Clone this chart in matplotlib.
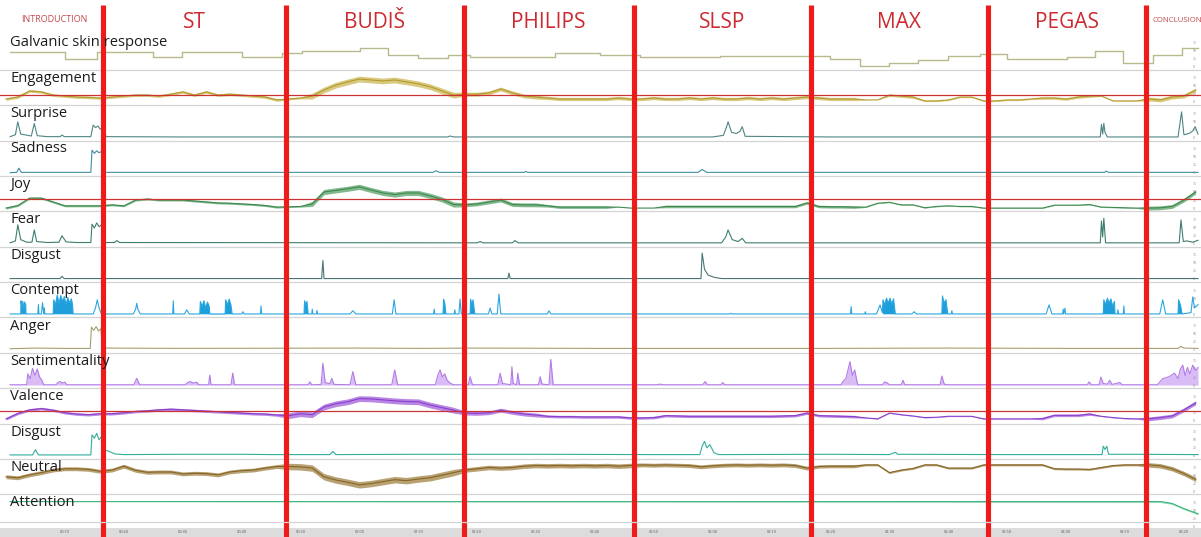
import numpy as np
import matplotlib
matplotlib.use("Agg")
import matplotlib.pyplot as plt
import matplotlib.transforms as mtransforms
from matplotlib.lines import Line2D

plt.rcParams["font.family"] = ["Open Sans", "DejaVu Sans"]

W, H = 1201, 537
T_MIN, T_MAX = -1.02, 202.9          # seconds shown across the width

# ---------------- session structure (seconds) ----------------
section_names = ["INTRODUCTION", "ST", "BUDIŠ", "PHILIPS", "SLSP", "MAX", "PEGAS", "CONCLUSION"]
section_bounds = [16.5, 47.5, 77.7, 106.6, 136.6, 166.7, 193.6]

row_labels = ["Galvanic skin response", "Engagement", "Surprise", "Sadness", "Joy", "Fear",
              "Disgust", "Contempt", "Anger", "Sentimentality", "Valence", "Disgust",
              "Neutral", "Attention"]

tick_seconds = list(range(10, 201, 10))

# regular 2-second sampling used by the continuous metrics
t_grid = np.arange(0, 204, 2)

# ---------------- galvanic skin response (step levels) ----------------
gsr_t = [0.7, 10.0, 15.4, 25.0, 29.9, 40.1, 46.9, 50.3, 60.1, 64.9, 70.0, 75.1, 78.8, 93.2,
         100.8, 107.6, 121.2, 139.9, 145.0, 149.9, 154.8, 159.9, 165.4, 170.0, 180.1, 184.9,
         189.6, 194.7, 199.7, 202.4]
gsr_v = [46, 22, 46, 30, 44, 30, 43, 48, 56, 35, 25, 35, 30, 42,
         36, 28, 32, 22, 0, 10, 20, 33, 38, 22, 28, 49,
         12, 36, 56, 56]

# ---------------- engagement ----------------
engagement = [9, 15, 34, 31, 21, 18, 15, 14, 12, 15,
              18, 21, 21, 18, 24, 31, 21, 31, 21, 24,
              21, 18, 15, 6, 9, 12, 18, 37, 52, 62,
              71, 68, 65, 68, 62, 56, 47, 34, 21, 24,
              24, 28, 40, 28, 18, 15, 12, 9, 9, 9,
              9, 9, 12, 9, 9, 12, 9, 9, 12, 9,
              12, 9, 9, 12, 9, 12, 9, 12, 15, 12,
              9, 9, 9, 6, 6, 21, 18, 15, 3, 3,
              6, 15, 15, 3, 3, 6, 6, 9, 12, 12,
              9, 15, 18, 18, 3, 3, 3, 9, 6, 15,
              18, 37]
engagement_noise = [(0, 47.5, 4), (47.5, 52, 3), (52, 77.7, 9), (77.7, 92, 6), (92, 136.6, 5),
                    (136.6, 146, 5), (150, 156, 4), (156, 176, 2), (176, 186, 4),
                    (186, 193.6, 1), (193.6, 203, 6)]
engagement_threshold = 20

# ---------------- joy ----------------
joy = [0, 8, 31, 31, 19, 7, 7, 7, 7, 10,
       7, 25, 28, 25, 25, 25, 22, 19, 16, 15,
       13, 11, 8, 3, 4, 5, 13, 50, 55, 60,
       66, 56, 47, 42, 47, 47, 38, 27, 11, 10,
       13, 19, 25, 11, 10, 10, 7, 3, 3, 3,
       3, 3, 3, 0, 0, 0, 5, 5, 5, 5,
       5, 5, 5, 5, 5, 5, 5, 5, 16, 5,
       4, 4, 3, 3, 15, 18, 10, 10, 1, 5,
       7, 5, 5, 0, 0, 0, 0, 0, 0, 9,
       9, 9, 11, 3, 2, 1, 0, 0, 1, 5,
       25, 50]
joy_noise = [(0, 47.5, 3), (47.5, 52, 2), (52, 77.7, 8), (77.7, 92, 6), (92, 104, 4),
             (111, 136.6, 4), (136.6, 145, 4), (145, 193.6, 1), (193.6, 203, 6)]
joy_threshold = 28

# ---------------- valence ----------------
valence = [5, 22, 33, 37, 32, 24, 20, 18, 21, 21,
           24, 28, 30, 33, 35, 33, 31, 29, 27, 25,
           23, 21, 20, 17, 15, 21, 18, 42, 52, 58,
           68, 67, 64, 61, 59, 58, 48, 40, 32, 23,
           22, 24, 32, 25, 20, 17, 13, 12, 12, 11,
           11, 11, 11, 8, 8, 9, 15, 14, 13, 13,
           13, 13, 13, 13, 13, 13, 14, 15, 23, 15,
           14, 13, 12, 8, 5, 23, 18, 14, 9, 10,
           13, 13, 13, 5, 5, 5, 5, 5, 6, 16,
           16, 16, 20, 13, 9, 6, 5, 5, 9, 14,
           33, 55]
valence_noise = [(0, 47.5, 4), (47.5, 77.7, 9), (77.7, 92, 6), (92, 146, 4), (146, 176, 1),
                 (176, 186, 4), (186, 193.6, 1), (193.6, 203, 6)]
valence_threshold = 30

# ---------------- neutral ----------------
neutral = [45, 42, 51, 58, 66, 70, 70, 68, 62, 66,
           78, 65, 59, 60, 60, 54, 56, 55, 51, 60,
           64, 66, 72, 77, 77, 76, 72, 45, 35, 28,
           20, 24, 30, 36, 33, 38, 42, 50, 58, 66,
           70, 74, 72, 74, 78, 80, 79, 80, 79, 80,
           79, 80, 78, 80, 82, 81, 82, 81, 80, 76,
           79, 81, 82, 81, 82, 81, 82, 80, 72, 77,
           78, 78, 78, 82, 82, 58, 66, 71, 82, 82,
           72, 72, 72, 82, 82, 82, 82, 82, 82, 70,
           69, 69, 68, 74, 80, 82, 82, 82, 79, 70,
           55, 37]
neutral_noise = [(0, 47.5, 6), (47.5, 77.7, 10), (77.7, 106.6, 7), (106.6, 136.6, 6),
                 (136.6, 146, 5), (146, 193.6, 3), (193.6, 203, 7)]

# ---------------- attention ----------------
attention_t = [0.7, 196.0, 198.0, 200.0, 202.4]
attention_v = [78, 78, 72, 56, 40]
attention_noise = [(196, 203, 3)]

# ---------------- event-like emotions (time, value) ----------------
surprise_t = [0.7, 1.6, 2.0, 2.5, 4.3, 4.8, 5.3, 7, 9.2, 9.5, 9.9, 11, 14.4, 14.8, 15.2, 15.6,
              16.0, 16.4, 17, 30, 75, 75.4, 76, 120, 121.8, 122.3, 122.6, 123.2, 124, 124.6,
              125.0, 125.5, 140, 185.8, 186.0, 186.2, 186.4, 186.6, 187, 199.0, 199.3, 199.6,
              200.0, 200.5, 201.0, 201.5, 201.9, 202.4]
surprise_v = [2, 8, 48, 10, 4, 43, 5, 2, 2, 7, 2, 2, 2, 38, 30, 35,
              25, 28, 2, 1, 1, 4, 1, 1, 6, 30, 48, 15, 12, 18,
              33, 3, 1, 1, 40, 10, 43, 15, 1, 1, 40, 79,
              8, 10, 13, 20, 33, 10]

sadness_t = [0.7, 1.8, 2.2, 2.6, 14.4, 14.6, 15.0, 15.4, 15.8, 16.2, 16.5, 72.5, 73.0, 73.6,
             88.0, 88.2, 88.6, 117.5, 118.2, 119.0, 186.5, 186.8, 187.2, 202.4]
sadness_v = [0, 1, 14, 1, 1, 70, 60, 68, 62, 66, 1, 1, 6, 1,
             1, 4, 1, 1, 10, 1, 1, 5, 1, 1]

fear_t = [0.7, 1.6, 2.0, 2.5, 3.5, 4.4, 4.8, 5.2, 7, 9.0, 9.5, 10.2, 12, 14.4, 14.6, 15.0,
          15.4, 15.8, 16.2, 16.5, 18.4, 18.8, 19.3, 80, 80.5, 81, 86, 86.4, 87, 121.5, 122.2,
          122.6, 123.3, 124.3, 125.0, 125.6, 185.8, 186.0, 186.2, 186.4, 186.7, 199.2, 199.5,
          199.9, 200.5, 201.0, 201.5, 202.4]
fear_v = [2, 8, 58, 12, 4, 4, 42, 6, 3, 4, 24, 5, 3, 3, 60, 48,
          64, 52, 58, 3, 3, 9, 3, 2, 6, 2, 2, 9, 2, 2, 20,
          42, 12, 6, 16, 2, 2, 70, 20, 78, 2, 2, 73,
          6, 8, 6, 4, 10]

disgust_t = [0.7, 9.2, 9.5, 9.9, 53.6, 53.8, 54.0, 85.2, 85.4, 85.6, 118.0, 118.2, 118.6,
             119.2, 120.2, 121.5, 202.4]
disgust_v = [1, 1, 8, 1, 1, 57, 1, 1, 18, 1, 1, 80, 30,
             12, 5, 1, 1]

contempt_t = [0.7, 2.5, 2.55, 2.7, 2.85, 3.0, 3.15, 3.35, 3.4, 5.4, 5.5, 5.6, 6.0, 6.2, 6.4,
              6.5, 6.6, 8.0, 8.1, 8.4, 8.7, 9.0, 9.3, 9.6, 9.9, 10.2, 10.5, 10.8, 11.1, 11.3,
              11.4, 14.8, 15.2, 15.5, 15.8, 16.2, 21.6, 22.0, 22.2, 22.4, 22.8, 28.3, 28.4,
              28.5, 30.3, 30.7, 31.1, 32.9, 33.0, 33.3, 33.6, 33.9, 34.2, 34.5, 34.6, 37.2,
              37.3, 37.6, 37.9, 38.2, 38.4, 40.0, 40.2, 40.4, 43.2, 43.3, 43.4, 50.6, 50.7,
              50.9, 51.1, 51.3, 51.9, 52.0, 52.1, 52.7, 52.8, 52.9, 58.4, 58.9, 59.4, 65.6,
              65.9, 66.2, 72.6, 72.7, 72.8, 74.2, 74.3, 74.5, 74.7, 76.1, 76.2, 76.3, 76.9,
              77.1, 77.3, 78.8, 78.9, 79.1, 79.3, 79.6, 81.9, 82.2, 82.5, 83.4, 83.7, 84.0,
              91.9, 92.2, 92.5, 122.9, 123.1, 123.3, 143.4, 143.5, 143.6, 145.8, 145.9, 146.0,
              147.8, 148.4, 148.8, 148.9, 149.2, 149.5, 149.8, 150.1, 150.4, 150.7, 151.0,
              153.8, 154.2, 154.6, 158.9, 159.0, 159.3, 159.6, 159.9, 160.5, 160.6, 160.7,
              176.6, 177.1, 177.6, 179.4, 179.5, 179.6, 179.8, 179.9, 186.3, 186.4, 186.7,
              187.0, 187.3, 187.6, 187.9, 188.2, 188.3, 188.7, 188.8, 188.9, 189.7, 189.8,
              189.9, 195.9, 196.4, 196.9, 199.0, 199.1, 199.4, 199.7, 201.2, 201.5, 201.8,
              202.4]
contempt_v = [1, 1, 42, 20, 40, 15, 38, 30, 1, 1, 30, 1, 1, 36, 1,
              20, 1, 1, 45, 30, 60, 35, 58, 40, 55, 30, 52, 35, 48, 30,
              1, 1, 20, 45, 20, 1, 1, 15, 34, 15, 1, 1, 42,
              1, 1, 14, 1, 1, 40, 25, 42, 20, 38, 25, 1, 1,
              45, 30, 47, 28, 1, 1, 8, 1, 1, 26, 1, 1, 42,
              30, 40, 1, 1, 16, 1, 1, 12, 1, 1, 11, 1, 1,
              45, 1, 1, 16, 1, 1, 47, 35, 1, 1, 14, 1, 1,
              47, 1, 1, 47, 30, 45, 1, 1, 19, 1, 1, 63, 1,
              1, 11, 1, 1, 3, 1, 1, 24, 1, 1, 8, 1,
              1, 29, 5, 45, 30, 50, 35, 50, 32, 48, 1,
              1, 8, 1, 1, 57, 35, 45, 1, 1, 11, 1,
              1, 29, 1, 1, 16, 1, 19, 1, 1, 45, 30,
              50, 35, 48, 25, 40, 1, 1, 14, 1, 1, 26,
              1, 1, 45, 1, 1, 45, 30, 1, 5, 54, 20,
              30]
contempt_blocks = [(2.5, 3.4), (8.0, 11.4), (32.9, 34.6), (37.2, 38.4), (50.6, 51.3),
                   (74.2, 74.7), (78.8, 79.6), (148.9, 151.0), (158.9, 159.9), (186.3, 188.3),
                   (199.0, 199.7)]

anger_t = [0.7, 5, 10, 14.3, 14.5, 14.9, 15.3, 15.7, 16.1, 16.4, 30, 60, 70, 80, 100, 120,
           140, 160, 180, 199, 199.5, 200, 202.4]
anger_v = [3, 5, 4, 4, 70, 60, 72, 58, 65, 5, 4, 5, 4, 5, 4, 4,
           4, 5, 4, 4, 10, 5, 4]

sentiment_t = [0.7, 3.5, 3.7, 4.1, 4.5, 4.9, 5.3, 5.7, 6.1, 6.4, 8.5, 8.8, 9.2, 9.6, 10.0, 10.3,
               21.7, 22.2, 22.7, 30.5, 30.8, 31.3, 31.8, 32.4, 32.7, 34.4, 34.6, 34.8, 38.2,
               38.5, 38.8, 51.3, 51.6, 51.9, 53.5, 53.8, 54.2, 55.0, 55.3, 55.7, 58.4, 58.9,
               59.4, 65.5, 66.0, 66.5, 72.9, 73.3, 73.7, 74.1, 74.5, 74.9, 75.5, 76.0, 78.5,
               78.8, 79.2, 83.5, 83.9, 84.3, 85.7, 85.9, 86.1, 86.7, 86.9, 87.2, 90.4, 90.7,
               91.0, 92.2, 92.5, 92.9, 110.5, 111.0, 111.5, 118.3, 118.7, 119.1, 121.4, 121.7,
               122.0, 141.8, 142.1, 142.6, 143.3, 143.7, 144.1, 144.6, 148.8, 149.2, 149.6,
               150.0, 152.0, 152.3, 152.6, 158.6, 158.9, 159.3, 159.8, 183.6, 183.9, 184.3,
               185.6, 185.9, 186.3, 187.0, 187.4, 187.8, 189.1, 189.5, 195.5, 196.4, 197.5,
               198.4, 199.0, 199.4, 199.8, 200.2, 200.6, 201.0, 201.5, 202.0, 202.4]
sentiment_v = [1, 1, 35, 20, 52, 30, 50, 25, 15, 1, 1, 8, 11, 6, 9, 1,
               1, 21, 1, 1, 8, 11, 6, 9, 1, 1, 31, 1, 1,
               37, 1, 1, 10, 1, 2, 68, 8, 4, 21, 2, 1, 42,
               1, 1, 47, 1, 1, 30, 47, 25, 35, 15, 5, 1, 1,
               26, 1, 1, 37, 5, 1, 57, 5, 1, 37, 1, 1, 26,
               3, 1, 80, 1, 1, 3, 1, 1, 11, 1, 1, 8,
               1, 1, 11, 20, 73, 30, 47, 1, 1, 10, 7,
               1, 1, 15, 1, 1, 28, 3, 1, 1, 10, 1,
               1, 25, 5, 3, 15, 2, 8, 1, 1, 20, 26,
               37, 20, 50, 62, 30, 55, 35, 62, 45, 55]

disgust2_t = [0.7, 4.5, 5.0, 5.5, 14.4, 14.6, 15.0, 15.4, 15.8, 16.2, 16.5, 17.5, 18.5, 20, 30,
              40, 45, 55, 55.5, 56, 70, 90, 110, 117.8, 118.2, 118.6, 119.0, 119.5, 120.2, 121,
              140, 150, 151.0, 151.4, 170, 186.1, 186.3, 186.6, 186.9, 187.2, 191, 202.4]
disgust2_v = [3, 3, 19, 3, 3, 65, 55, 70, 50, 60, 20, 14, 6, 4, 5,
              5, 4, 4, 14, 4, 5, 5, 4, 4, 30, 45, 25, 35, 10, 4,
              5, 4, 11, 5, 4, 4, 30, 20, 30, 5, 5, 4]

# ---------------- figure ----------------
fig = plt.figure(figsize=(W / 100, H / 100), dpi=100)
fig.patch.set_facecolor("white")

ROW_TOP, ROW_H = 34.3, 35.4


def row_axes(i):
    top = ROW_TOP + i * ROW_H
    ax = fig.add_axes([0, 1 - (top + ROW_H) / H, 1, ROW_H / H])
    ax.set_xlim(T_MIN, T_MAX)
    ax.set_ylim(-10, 100)
    ax.patch.set_alpha(0)
    for s in ax.spines.values():
        s.set_visible(False)
    ax.set_xticks([])
    ax.yaxis.tick_right()
    ax.set_yticks([0, 25, 50, 75])
    ax.tick_params(axis="y", length=0, labelsize=2.5, labelcolor="#8a8a8a", pad=-6)
    ax.axhline(-10, color="#d4d4d4", lw=0.9, clip_on=False, zorder=0)
    fig.text(10 / W, 1 - (top + 8.5) / H, row_labels[i], fontsize=10.6, color="#1c1c1c",
             ha="left", va="center", zorder=5)
    return ax


def noise_amp(t, segs):
    t = np.asarray(t, float)
    amp = np.zeros_like(t)
    for a, b, s in segs:
        amp[(t >= a) & (t < b)] = s
    return amp


def noisy(ax, t, v, segs, color, band):
    t = np.asarray(t, float)
    v = np.asarray(v, float)
    amp = noise_amp(t, segs)
    ax.fill_between(t, v - amp, v + amp, color=band, lw=0, alpha=0.7)
    ax.plot(t, v, color=color, lw=0.8)


axes = [row_axes(i) for i in range(len(row_labels))]

# GSR
axes[0].step(gsr_t, gsr_v, where="post", color="#b9b98e", lw=1.0)

# Engagement
noisy(axes[1], t_grid, engagement, engagement_noise, "#b49a2c", "#c9b34a")
axes[1].axhline(engagement_threshold, color="#cc3333", lw=0.9)

# Surprise, Sadness
axes[2].plot(surprise_t, surprise_v, color="#4f8585", lw=0.8)
axes[3].plot(sadness_t, sadness_v, color="#3f8fa3", lw=0.8)

# Joy
noisy(axes[4], t_grid, joy, joy_noise, "#3c8a4e", "#4f9a5f")
axes[4].axhline(joy_threshold, color="#cc3333", lw=0.9)

# Fear, Disgust
axes[5].plot(fear_t, fear_v, color="#3d7d70", lw=0.8)
axes[6].plot(disgust_t, disgust_v, color="#4a7373", lw=0.8)

# Contempt
ct = np.asarray(contempt_t, float)
cv = np.asarray(contempt_v, float)
in_block = np.zeros_like(ct, dtype=bool)
for a, b in contempt_blocks:
    in_block |= (ct >= a) & (ct <= b)
axes[7].fill_between(ct, 0, cv, where=in_block, color="#1e9fdc", lw=0)
axes[7].plot(ct, cv, color="#2aa6df", lw=0.8)

# Anger
axes[8].plot(anger_t, anger_v, color="#a3a070", lw=0.8)

# Sentimentality
axes[9].fill_between(sentiment_t, 0, sentiment_v, color="#c9a0f2", lw=0, alpha=0.7)
axes[9].plot(sentiment_t, sentiment_v, color="#b27be6", lw=0.8)

# Valence
noisy(axes[10], t_grid, valence, valence_noise, "#8a3fcc", "#9b55d8")
axes[10].axhline(valence_threshold, color="#cc3333", lw=0.9)

# Disgust (second channel)
axes[11].plot(disgust2_t, disgust2_v, color="#2fae9c", lw=0.8)

# Neutral
noisy(axes[12], t_grid, neutral, neutral_noise, "#876526", "#9a7a38")

# Attention
noisy(axes[13], attention_t, attention_v, attention_noise, "#3fb680", "#7ccfa3")

fig.add_artist(Line2D([0, 1], [1 - 522 / H] * 2, transform=fig.transFigure,
                      color="#d4d4d4", lw=0.9))

# time strip
strip = fig.add_axes([0, 0, 1, 9 / H])
strip.set_xlim(T_MIN, T_MAX)
strip.set_facecolor("#dcdcdc")
for s in strip.spines.values():
    s.set_visible(False)
strip.set_xticks([])
strip.set_yticks([])
trans = mtransforms.blended_transform_factory(strip.transData, strip.transAxes)
for ts in tick_seconds:
    strip.text(ts, 0.55, f"{ts // 60:02d}:{ts % 60:02d}", transform=trans, fontsize=2.8,
               color="#555555", ha="center", va="center")

# section dividers and titles
ov = fig.add_axes([0, 0, 1, 1])
ov.set_xlim(T_MIN, T_MAX)
ov.set_ylim(0, 1)
ov.axis("off")
ov.patch.set_alpha(0)
for b in section_bounds:
    ov.axvline(b, ymin=0, ymax=1 - 5 / H, color="#ee1b1b", lw=3.7, solid_capstyle="butt")

edges = [0] + section_bounds
for k, name in enumerate(section_names):
    if k == 0:
        ov.text((edges[0] + edges[1]) / 2, 1 - 20 / H, name, fontsize=6.5, color="#c24a4f",
                ha="center", va="center")
    elif k == len(section_names) - 1:
        ov.text(edges[k] + 1.0, 1 - 20 / H, name, fontsize=5.6, color="#c24a4f",
                ha="left", va="center")
    else:
        ov.text((edges[k] + edges[k + 1]) / 2, 1 - 22 / H, name, fontsize=15, color="#cc2a30",
                ha="center", va="center")

fig.savefig("out.png", dpi=100)
